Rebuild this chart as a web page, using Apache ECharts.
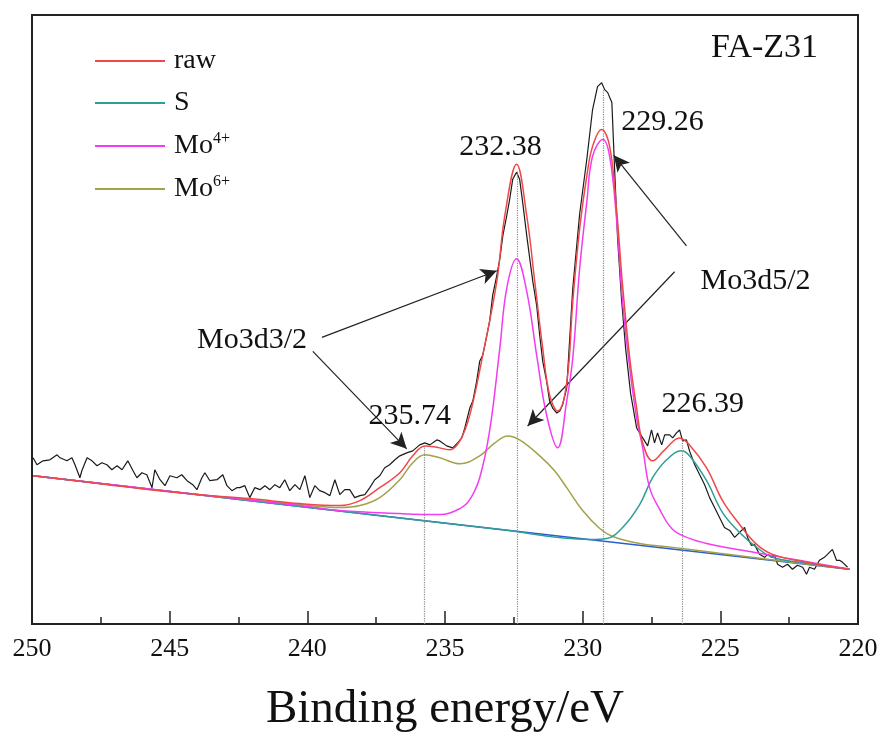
<!DOCTYPE html>
<html>
<head>
<meta charset="utf-8">
<script src="https://cdn.jsdelivr.net/npm/echarts@6/dist/echarts.min.js"></script>
<style>
  html, body { margin: 0; background: #fff; }
  #chart { width: 883px; height: 738px; }
</style>
</head>
<body>
<div id="chart"></div>
<script>
// binding energy (eV) / intensity (a.u.)
const rawE = [249.96, 249.82, 249.6, 249.35, 249.09, 248.98, 248.73, 248.55, 248.44, 248.26, 248.19, 248.0, 247.82, 247.64, 247.46, 247.28, 247.1, 246.91, 246.73, 246.52, 246.33, 246.19, 246.01, 245.83, 245.64, 245.54, 245.35, 245.17, 244.99, 244.74, 244.56, 244.37, 244.16, 244.01, 243.83, 243.72, 243.54, 243.28, 243.07, 242.92, 242.74, 242.56, 242.45, 242.27, 242.09, 241.91, 241.72, 241.54, 241.36, 241.18, 241.0, 240.82, 240.64, 240.45, 240.27, 240.09, 239.91, 239.73, 239.55, 239.36, 239.18, 239.0, 238.82, 238.64, 238.46, 238.28, 238.09, 237.91, 237.73, 237.55, 237.37, 237.19, 237.01, 236.82, 236.64, 236.39, 236.17, 235.92, 235.73, 235.55, 235.3, 235.19, 234.94, 234.72, 234.54, 234.39, 234.28, 234.1, 233.99, 233.85, 233.74, 233.63, 233.48, 233.38, 233.27, 233.12, 233.01, 232.9, 232.76, 232.65, 232.54, 232.4, 232.29, 232.18, 232.03, 231.92, 231.81, 231.67, 231.56, 231.45, 231.31, 231.2, 231.09, 230.94, 230.83, 230.73, 230.58, 230.36, 230.11, 229.85, 229.64, 229.46, 229.31, 229.2, 229.09, 228.94, 228.84, 228.73, 228.59, 228.44, 228.26, 228.04, 227.82, 227.64, 227.5, 227.39, 227.28, 227.13, 227.02, 226.84, 226.73, 226.59, 226.48, 226.37, 226.23, 226.12, 225.93, 225.75, 225.57, 225.39, 225.21, 225.03, 224.85, 224.66, 224.48, 224.3, 224.12, 224.01, 223.87, 223.76, 223.58, 223.39, 223.28, 223.14, 223.03, 222.92, 222.74, 222.56, 222.38, 222.2, 222.01, 221.87, 221.76, 221.58, 221.4, 221.22, 221.11, 220.93, 220.78, 220.67, 220.56, 220.38];
const rawI = [167, 160, 164, 165, 170, 167, 164, 167, 160, 147, 154, 167, 164, 159, 162, 160, 155, 159, 155, 164, 154, 147, 152, 150, 137, 155, 145, 139, 149, 147, 150, 144, 140, 135, 147, 152, 144, 145, 150, 139, 134, 137, 137, 139, 127, 137, 135, 139, 135, 140, 137, 145, 134, 140, 135, 149, 127, 139, 134, 132, 129, 145, 130, 135, 135, 127, 129, 130, 137, 145, 149, 157, 160, 165, 169, 172, 174, 180, 182, 180, 185, 184, 179, 177, 182, 187, 197, 217, 224, 244, 264, 270, 290, 304, 330, 350, 367, 390, 410, 427, 447, 454, 447, 424, 390, 367, 344, 320, 290, 264, 244, 224, 217, 212, 214, 220, 237, 337, 412, 467, 517, 540, 544, 537, 534, 524, 457, 387, 327, 277, 232, 197, 187, 179, 195, 182, 192, 180, 190, 190, 187, 192, 195, 184, 185, 174, 160, 150, 140, 127, 117, 107, 97, 94, 87, 92, 97, 87, 79, 80, 70, 67, 70, 67, 69, 60, 57, 60, 55, 59, 57, 50, 57, 55, 64, 67, 70, 75, 64, 64, 62, 57];

const fitE = [249.96, 247.53, 245.72, 243.9, 242.09, 240.27, 238.82, 238.09, 237.37, 236.64, 236.17, 235.73, 235.19, 234.83, 234.46, 234.1, 233.63, 233.12, 232.83, 232.4, 232.03, 231.74, 231.45, 231.2, 230.91, 230.58, 230.36, 230.11, 229.85, 229.64, 229.31, 229.02, 228.77, 228.55, 228.29, 228.04, 227.82, 227.46, 227.02, 226.48, 226.12, 225.5, 224.92, 224.3, 223.68, 223.1, 221.87, 220.31];
const fitI = [149, 141, 135, 130, 126, 121, 119, 124, 137, 152, 169, 179, 177, 175, 184, 210, 270, 344, 410, 462, 410, 344, 277, 230, 214, 242, 324, 397, 450, 480, 497, 480, 417, 340, 267, 217, 182, 164, 175, 187, 180, 157, 124, 100, 80, 70, 62, 55];

const sE = [249.96, 240.27, 233.01, 229.75, 229.13, 228.55, 227.93, 227.46, 226.95, 226.41, 226.12, 225.5, 224.92, 224.3, 223.68, 223.1, 222.12, 220.31];
const sI = [149, 118, 95, 85, 86, 97, 120, 147, 165, 174, 169, 144, 112, 92, 77, 67, 62, 55];

const mo4E = [249.96, 243.9, 240.27, 238.82, 236.64, 235.19, 234.46, 234.1, 233.74, 233.38, 233.01, 232.76, 232.4, 232.03, 231.67, 231.31, 230.91, 230.58, 230.36, 230.11, 229.85, 229.64, 229.27, 229.02, 228.77, 228.55, 228.29, 228.04, 227.82, 227.57, 227.2, 226.73, 226.12, 225.5, 223.58, 222.14, 220.31];
const mo4I = [149, 130, 119, 114, 111, 110, 116, 125, 147, 194, 277, 337, 367, 334, 270, 210, 177, 224, 267, 357, 424, 470, 487, 470, 407, 324, 257, 207, 177, 137, 115, 95, 86, 81, 71, 64, 55];

const mo6E = [249.96, 243.9, 240.27, 238.82, 238.09, 237.37, 236.64, 236.17, 235.73, 235.19, 234.46, 233.74, 233.19, 232.72, 232.29, 231.56, 231.02, 230.58, 230.0, 229.38, 228.91, 227.93, 226.73, 225.03, 223.58, 222.12, 220.31];
const mo6I = [149, 130, 120, 117, 119, 127, 145, 162, 170, 167, 161, 169, 182, 189, 185, 169, 154, 137, 114, 96, 88, 81, 77, 71, 66, 61, 55];

const bgE = [249.96, 235.19, 220.31];
const bgI = [149, 102, 55];

// peak positions marked with dotted lines, and how high each line reaches
const peakE = [235.74, 232.38, 229.26, 226.39];
const peakTop = [179, 455, 538, 186];

const legendNames = ['raw', 'S', 'Mo4+', 'Mo6+'];

const zip = (xs, ys) => xs.map((x, i) => [x, ys[i]]);
const serif = "'Liberation Serif', 'DejaVu Serif', 'Times New Roman', serif";

const chart = echarts.init(document.getElementById('chart'));

const legendRich = {
  b: { fontFamily: serif, fontSize: 28, color: '#111' },
  s: { fontFamily: serif, fontSize: 16, color: '#111', verticalAlign: 'top', padding: [0, 0, 14, 0] },
};

const option = {
  animation: false,
  backgroundColor: '#fff',
  grid: {
    left: 32, right: 25, top: 15, bottom: 111,
    show: true, borderColor: '#222', borderWidth: 2, backgroundColor: 'transparent',
  },
  title: {
    text: 'FA-Z31',
    left: 706, top: 26,
    textStyle: { fontFamily: serif, fontSize: 34, fontWeight: 'normal', color: '#111' },
  },
  legend: {
    data: legendNames,
    orient: 'vertical',
    left: 90, top: 42,
    itemWidth: 70, itemHeight: 2, itemGap: 14,
    icon: 'rect',
    formatter: (name) => {
      if (name === 'Mo4+') return '{b|Mo}{s|4+}';
      if (name === 'Mo6+') return '{b|Mo}{s|6+}';
      return '{b|' + name + '}';
    },
    textStyle: { rich: legendRich, padding: [0, 0, 0, 4] },
  },
  xAxis: {
    type: 'value',
    inverse: true,
    min: 220, max: 250, interval: 5,
    name: 'Binding energy/eV',
    nameLocation: 'middle',
    nameGap: 62,
    nameTextStyle: { fontFamily: serif, fontSize: 47, color: '#111' },
    axisLine: { show: true, lineStyle: { color: '#222', width: 2 } },
    axisTick: { show: true, inside: true, length: 13, lineStyle: { color: '#222', width: 1.5 } },
    minorTick: { show: true, splitNumber: 2, length: 7, lineStyle: { color: '#222', width: 1.5 } },
    axisLabel: { fontFamily: serif, fontSize: 26, color: '#111', margin: 12 },
    splitLine: { show: false },
  },
  yAxis: {
    type: 'value', min: 0, max: 612, show: false,
  },
  series: [
    {
      name: 'data', type: 'line', data: zip(rawE, rawI), showSymbol: false,
      lineStyle: { color: '#1a1a1a', width: 1.2 }, itemStyle: { color: '#1a1a1a' }, z: 2,
      markLine: {
        silent: true, symbol: ['none', 'arrow'], symbolSize: [12, 16],
        lineStyle: { color: '#222', width: 1.2, type: 'solid' },
        label: { show: false },
        data: [
          [{ coord: [239.47, 288] }, { coord: [233.12, 355] }],
          [{ coord: [239.8, 274] }, { coord: [236.39, 176] }],
          [{ coord: [226.23, 380] }, { coord: [228.87, 471] }],
          [{ coord: [226.66, 354] }, { coord: [232.0, 199] }],
        ],
      },
    },
    {
      name: 'background', type: 'line', data: zip(bgE, bgI), showSymbol: false,
      lineStyle: { color: '#2b5fd0', width: 1.5 }, itemStyle: { color: '#2b5fd0' }, z: 3,
      markLine: {
        silent: true, symbol: ['none', 'none'],
        lineStyle: { color: '#8a8a8a', width: 1.2, type: 'dotted' },
        label: { show: false },
        data: peakE.map((e, i) => [{ coord: [e, 0] }, { coord: [e, peakTop[i]] }]),
      },
    },
    {
      name: 'Mo6+', type: 'line', data: zip(mo6E, mo6I), showSymbol: false, smooth: 0.4,
      lineStyle: { color: '#a3a14a', width: 1.5 }, itemStyle: { color: '#a3a14a' }, z: 4,
    },
    {
      name: 'S', type: 'line', data: zip(sE, sI), showSymbol: false, smooth: 0.4,
      lineStyle: { color: '#2f9e98', width: 1.5 }, itemStyle: { color: '#2f9e98' }, z: 4,
    },
    {
      name: 'Mo4+', type: 'line', data: zip(mo4E, mo4I), showSymbol: false, smooth: 0.4,
      lineStyle: { color: '#f23cf2', width: 1.5 }, itemStyle: { color: '#f23cf2' }, z: 5,
    },
    {
      name: 'raw', type: 'line', data: zip(fitE, fitI), showSymbol: false, smooth: 0.4,
      lineStyle: { color: '#f04848', width: 1.5 }, itemStyle: { color: '#f04848' }, z: 6,
      markPoint: {
        silent: true, symbol: 'rect', symbolSize: 1,
        itemStyle: { color: 'rgba(0,0,0,0)' },
        label: {
          show: true, position: 'inside', formatter: '{b}',
          fontFamily: serif, fontSize: 30, color: '#111',
        },
        data: [
          { name: '232.38', coord: [232.98, 479] },
          { name: '229.26', coord: [227.1, 504] },
          { name: '235.74', coord: [236.28, 209] },
          { name: '226.39', coord: [225.64, 221] },
          { name: 'Mo3d3/2', coord: [242.01, 285] },
          { name: 'Mo3d5/2', coord: [223.72, 345] },
        ],
      },
    },
  ],
};

chart.setOption(option);
</script>
</body>
</html>
